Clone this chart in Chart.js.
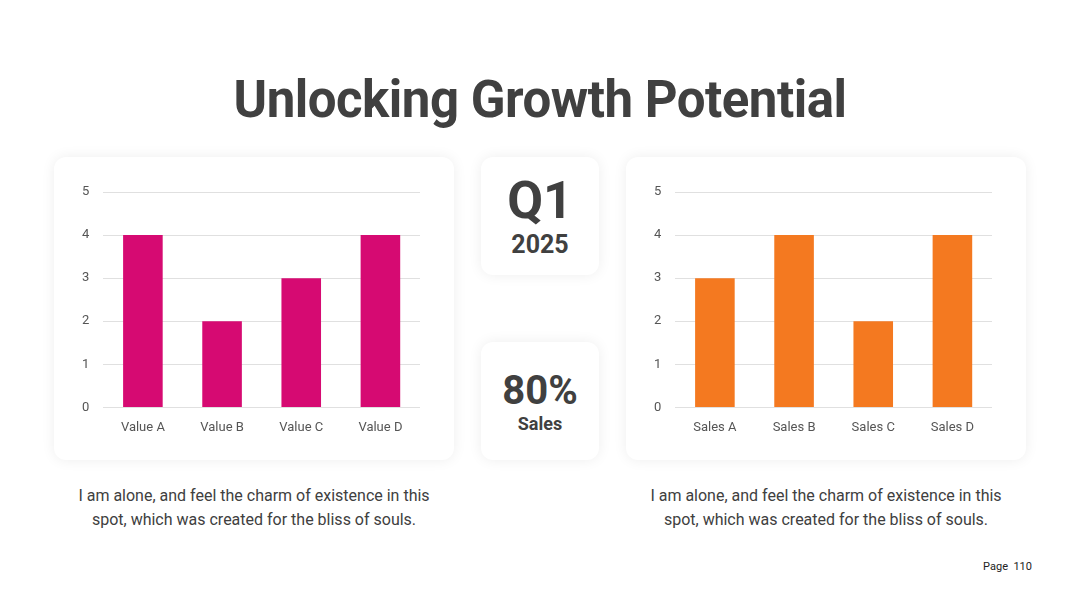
<!DOCTYPE html>
<html>
<head>
<meta charset="utf-8">
<script src="https://cdn.jsdelivr.net/npm/chart.js@4.4.1/dist/chart.umd.min.js"></script>
<style>
  html, body { margin: 0; padding: 0; background: #fff; }
  body { width: 1080px; height: 608px; position: relative; overflow: hidden; font-family: Roboto, "Noto Sans", sans-serif; color: #404040; }
  .title { position: absolute; left: 0; top: 70px; width: 1080px; text-align: center; font-size: 51px; font-weight: 700; color: #404040; letter-spacing: -0.5px; }
  .card { position: absolute; background: #fff; border-radius: 12px; box-shadow: 0 0 14px rgba(0,0,0,0.07); }
  .card canvas { position: absolute; left: 0; top: 0; }
  .mid { display: flex; flex-direction: column; align-items: center; justify-content: center; font-weight: 700; color: #404040; }
  .caption { position: absolute; width: 370px; text-align: center; font-size: 16px; line-height: 24px; color: #404040; }
  .page { position: absolute; right: 48px; top: 560px; font-size: 11px; color: #222; }
</style>
</head>
<body>
<div class="title">Unlocking Growth Potential</div>

<div class="card" style="left:54px;top:157px;width:400px;height:303px;"><canvas id="chartLeft" width="400" height="303"></canvas></div>

<div class="card mid" style="left:481px;top:157px;width:118px;height:118px;">
  <div style="font-size:52px;line-height:52px;margin-top:2px;">Q1</div>
  <div style="font-size:25px;line-height:30px;margin-top:3px;">2025</div>
</div>
<div class="card mid" style="left:481px;top:342px;width:118px;height:118px;">
  <div style="font-size:40px;line-height:44px;margin-top:2px;">80%</div>
  <div style="font-size:18px;line-height:22px;">Sales</div>
</div>

<div class="card" style="left:626px;top:157px;width:400px;height:303px;"><canvas id="chartRight" width="400" height="303"></canvas></div>

<div class="caption" style="left:69px;top:484px;">I am alone, and feel the charm of existence in this spot, which was created for the bliss of souls.</div>
<div class="caption" style="left:641px;top:484px;">I am alone, and feel the charm of existence in this spot, which was created for the bliss of souls.</div>

<div class="page">Page&nbsp; 110</div>

<script>
// chart data
var leftLabels = ["Value A", "Value B", "Value C", "Value D"];
var leftValues = [4, 2, 3, 4];
var rightLabels = ["Sales A", "Sales B", "Sales C", "Sales D"];
var rightValues = [3, 4, 2, 4];
var yTicks = [0, 1, 2, 3, 4, 5];

function makeBarChart(canvasId, labels, values, color) {
    var ctx = document.getElementById(canvasId).getContext('2d');
    return new Chart(ctx, {
        type: 'bar',
        data: {
            labels: labels,
            datasets: [{
                data: values,
                backgroundColor: color,
                borderWidth: 0,
                barPercentage: 0.5,
                categoryPercentage: 1.0
            }]
        },
        options: {
            responsive: false,
            animation: false,
            layout: { padding: { left: 14, right: 34, top: 35, bottom: 19 } },
            plugins: { legend: { display: false }, tooltip: { enabled: false } },
            scales: {
                x: {
                    grid: { display: false },
                    border: { display: false },
                    ticks: { color: '#555', font: { family: 'Roboto', size: 13 }, padding: 5 }
                },
                y: {
                    min: 0,
                    max: yTicks[yTicks.length - 1],
                    afterBuildTicks: function(axis) {
                        axis.ticks = yTicks.map(function(v) { return { value: v }; });
                    },
                    grid: { color: '#e0e0e0', drawTicks: false },
                    border: { display: false },
                    ticks: { color: '#555', font: { family: 'Roboto', size: 13 }, padding: 14 }
                }
            }
        }
    });
}

makeBarChart('chartLeft', leftLabels, leftValues, '#d60a72');
makeBarChart('chartRight', rightLabels, rightValues, '#f47920');
</script>
</body>
</html>
